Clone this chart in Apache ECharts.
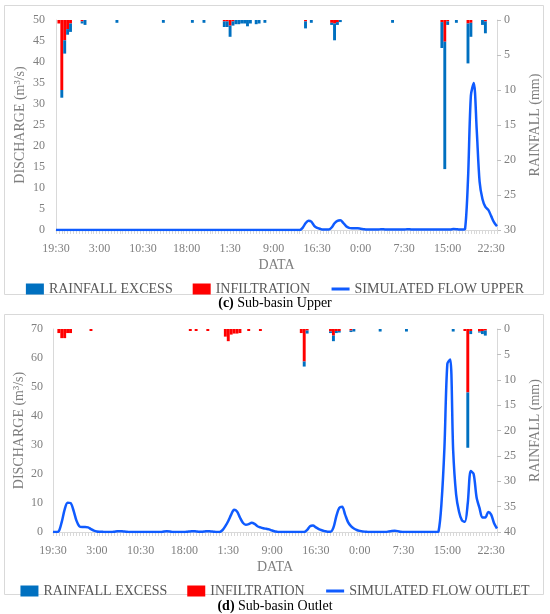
<!DOCTYPE html>
<html>
<head>
<meta charset="utf-8">
<title>Sub-basin Upper / Outlet</title>
<script src="https://cdn.jsdelivr.net/npm/echarts@6/dist/echarts.min.js"></script>
<style>
html,body{margin:0;padding:0;background:#fff;}
#main{width:550px;height:614px;}
</style>
</head>
<body>
<div id="main"></div>
<script>
// 时间轴: 19:30 开始, 每 30 分钟一个点
var startMinutes = 19 * 60 + 30;
var stepMinutes = 30;
var pointCount = 153;
var times = [];
for (var t = 0; t < pointCount; t++) {
    var m = (startMinutes + t * stepMinutes) % 1440;
    times.push(Math.floor(m / 60) + ':' + (m % 60 === 0 ? '00' : '30'));
}

// (c) 上游流量 m3/s, 每行 15 个点 (7.5 小时)
var flowUpper = [
    0,0,0,0,0,0,0,0,0,0,0,0,0,0,0,
    0,0,0,0,0,0,0,0,0,0,0,0,0,0,0,
    0,0,0,0,0,0,0,0,0,0,0,0,0,0,0,
    0,0,0,0,0,0,0,0,0,0,0,0,0,0,0,
    0,0,0,0,0,0,0,0,0,0,0,0,0,0,0,
    0,0,0,0,0,0,0,0,0,0,0.5,1.6,2.2,2.0,1.0,
    0.5,0.3,0.1,0.1,0.1,0.6,1.6,2.2,2.3,1.7,0.9,0.5,0.4,0.4,0.4,
    0.3,0.2,0.1,0.1,0.1,0.1,0.1,0.2,0.15,0.1,0.1,0.1,0.1,0.1,0.1,
    0.1,0.2,0.15,0.1,0.1,0.1,0.1,0.1,0.1,0.1,0.1,0.1,0.1,0.1,0.1,
    0.1,0.1,0.25,0.2,0.1,0.1,0.3,12,32,35,24,11.5,7.3,5.5,4.8,
    3.3,1.8,0.9
];
// (d) 出口流量 m3/s
var flowOutlet = [
    0,0,0.3,3.5,7.8,10.1,10.0,7.5,4.0,2.0,1.7,1.7,1.6,1.0,0.5,
    0.2,0.1,0.05,0,0,0,0.1,0.25,0.3,0.2,0.1,0,0,0,0,
    0,0,0,0,0,0,0,0,0.2,0.3,0.2,0,0,0,0,
    0,0.1,0.2,0.3,0.2,0.1,0.1,0.2,0.3,0.2,0.1,0,0,0.6,2.0,
    3.8,6.0,7.7,7.1,5.0,3.2,2.5,2.7,3.2,2.8,2.0,1.6,1.3,1.1,0.9,
    0.5,0.2,0,0,0,0,0,0,0,0,0,0,0.7,2.0,2.2,
    1.6,1.0,0.6,0.3,0.1,0.1,1.5,5.5,8.3,8.7,6.0,3.4,2.0,1.2,0.7,
    0.4,0.2,0.1,0,0,0,0,0,0,0,0.2,0.35,0.4,0.3,0.1,
    0,0,0,0,0,0,0,0,0,0,0,0,0.3,10,29,
    58,59.5,28,13,7,4,3.5,10,21,20,12,8.3,5.0,5.0,6.9,
    6.0,3.0,1.2
];

// 降雨 mm: [时间序号, 数值], 其余为 0
var upperInfil = [[1,0.5],[2,10.0],[3,2.9],[4,1.3],[5,0.5],[9,0.2],[58,0.2],[59,0.2],[60,0.8],[61,0.2],
    [86,0.2],[95,0.4],[96,0.5],[97,0.3],[133,0.3],[134,3.1],[135,0.2],[142,0.5],[143,0.4],[148,0.2]];
var upperExcess = [[2,1.1],[3,1.9],[4,0.8],[5,1.2],[9,0.3],[10,0.7],[21,0.4],[37,0.4],[47,0.4],[51,0.4],
    [58,0.8],[59,0.8],[60,1.6],[61,0.6],[62,0.6],[63,0.6],[64,0.5],[65,0.5],[66,0.9],[67,0.5],[69,0.6],[70,0.5],[72,0.4],
    [86,1.0],[88,0.4],[95,0.3],[96,2.4],[97,0.4],[98,0.3],[116,0.4],[133,3.7],[134,18.2],[135,0.5],[138,0.4],
    [142,5.7],[143,2.0],[147,0.7],[148,1.7]];
var outletInfil = [[2,0.8],[3,1.8],[4,1.8],[5,0.8],[6,0.8],[13,0.4],[47,0.4],[49,0.4],[53,0.4],
    [59,1.5],[60,2.4],[61,1.1],[62,0.9],[63,0.9],[64,0.8],[67,0.4],[71,0.4],
    [85,0.8],[86,6.4],[87,0.3],[95,0.5],[96,1.3],[97,0.4],[98,0.4],[102,0.3],
    [141,0.4],[142,12.5],[143,0.4],[146,0.5],[147,0.4],[148,0.3]];
var outletExcess = [[86,1.0],[87,0.6],[95,0.3],[96,1.1],[97,0.4],[98,0.3],[102,0.3],[103,0.5],
    [112,0.5],[121,0.5],[137,0.5],[142,10.9],[143,0.6],[146,0.2],[147,0.6],[148,1.0]];

var font = 'Liberation Serif';
var lineGray = '#d9d9d9';
var textGray = '#7f7f7f';
var blue = '#0070c0';
var red = '#ff0000';
var flowBlue = '#0f5bff';

// 稀疏数组展开为完整序列
function fillSeries(pairs) {
    var arr = [];
    for (var i = 0; i < times.length; i++) arr.push(0);
    pairs.forEach(function (p) { arr[p[0]] = p[1]; });
    return arr;
}

function makeXAxis(gridIndex) {
    return {
        type: 'category', gridIndex: gridIndex, data: times, boundaryGap: false,
        name: 'DATA', nameLocation: 'middle', nameGap: 28, nameMoveOverlap: false,
        nameTextStyle: {fontFamily: font, fontSize: 14, color: textGray},
        axisLine: {lineStyle: {color: lineGray}},
        axisTick: {show: true, interval: 0, length: 4, lineStyle: {color: lineGray}},
        axisLabel: {interval: 14, margin: 13, fontFamily: font, fontSize: 12, color: textGray},
        splitLine: {show: false}
    };
}

function makeLeftAxis(gridIndex, max, interval, gap, margin) {
    return {
        type: 'value', gridIndex: gridIndex, position: 'left', min: 0, max: max, interval: interval,
        name: 'DISCHARGE (m³/s)', nameLocation: 'middle', nameRotate: 90, nameGap: gap, nameMoveOverlap: false,
        nameTextStyle: {fontFamily: font, fontSize: 14, color: textGray},
        axisLine: {show: true, lineStyle: {color: lineGray}},
        axisTick: {show: false},
        axisLabel: {margin: margin, fontFamily: font, fontSize: 12, color: textGray},
        splitLine: {show: false}
    };
}

function makeRightAxis(gridIndex, max) {
    return {
        type: 'value', gridIndex: gridIndex, position: 'right', inverse: true, min: 0, max: max, interval: 5,
        name: 'RAINFALL (mm)', nameLocation: 'middle', nameRotate: 90, nameGap: 31, nameMoveOverlap: false,
        nameTextStyle: {fontFamily: font, fontSize: 14, color: textGray},
        axisLine: {show: true, lineStyle: {color: lineGray}},
        axisTick: {show: true, length: 4, lineStyle: {color: '#bfbfbf'}},
        axisLabel: {margin: 7, fontFamily: font, fontSize: 12, color: textGray},
        splitLine: {show: false}
    };
}

function barSeries(name, xi, yi, stack, color, data) {
    return {
        name: name, type: 'bar', xAxisIndex: xi, yAxisIndex: yi, stack: stack,
        barCategoryGap: '0%', itemStyle: {color: color}, data: fillSeries(data), z: 2
    };
}

function lineSeries(name, xi, yi, data) {
    return {
        name: name, type: 'line', xAxisIndex: xi, yAxisIndex: yi, data: data,
        symbol: 'none', smooth: 0.3, lineStyle: {color: flowBlue, width: 2.5},
        itemStyle: {color: flowBlue}, z: 3
    };
}

// 图例: 折线项只显示线段, 隐藏圆点
function makeLegend(top, flowName) {
    return {
        top: top, left: 'center', itemGap: 20, itemWidth: 18, itemHeight: 11, selectedMode: false,
        textStyle: {fontFamily: font, fontSize: 14, color: '#595959'},
        data: [
            {name: 'RAINFALL EXCESS', icon: 'rect'},
            {name: 'INFILTRATION', icon: 'rect'},
            {name: flowName, itemStyle: {opacity: 0}, lineStyle: {width: 3}}
        ]
    };
}

function caption(letter, label, y) {
    return {
        type: 'text', x: 275, y: y, silent: true,
        style: {
            text: '{b|(' + letter + ')} ' + label, fontFamily: font, fontSize: 14, fill: '#000',
            align: 'center', verticalAlign: 'middle',
            rich: {b: {fontFamily: font, fontSize: 14, fontWeight: 'bold', fill: '#000'}}
        }
    };
}

var option = {
    animation: false,
    backgroundColor: '#fff',
    grid: [
        {left: 56, top: 20, width: 445, height: 210},
        {left: 53, top: 329, width: 448, height: 203}
    ],
    xAxis: [makeXAxis(0), makeXAxis(1)],
    yAxis: [
        makeLeftAxis(0, 50, 5, 29, 11),
        makeRightAxis(0, 30),
        makeLeftAxis(1, 70, 10, 27, 10),
        makeRightAxis(1, 40)
    ],
    legend: [makeLegend(277, 'SIMULATED FLOW UPPER'), makeLegend(579, 'SIMULATED FLOW OUTLET')],
    graphic: [
        {type: 'rect', silent: true, shape: {x: 4.5, y: 5.5, width: 539, height: 289},
            style: {fill: 'none', stroke: lineGray, lineWidth: 1}},
        {type: 'rect', silent: true, shape: {x: 4.5, y: 314.5, width: 539, height: 280},
            style: {fill: 'none', stroke: lineGray, lineWidth: 1}},
        caption('c', 'Sub-basin Upper', 303),
        caption('d', 'Sub-basin Outlet', 606)
    ],
    series: [
        barSeries('INFILTRATION', 0, 1, 'rainU', red, upperInfil),
        barSeries('RAINFALL EXCESS', 0, 1, 'rainU', blue, upperExcess),
        lineSeries('SIMULATED FLOW UPPER', 0, 0, flowUpper),
        barSeries('INFILTRATION', 1, 3, 'rainO', red, outletInfil),
        barSeries('RAINFALL EXCESS', 1, 3, 'rainO', blue, outletExcess),
        lineSeries('SIMULATED FLOW OUTLET', 1, 2, flowOutlet)
    ]
};

var chart = echarts.init(document.getElementById('main'));
chart.setOption(option);
</script>
</body>
</html>
